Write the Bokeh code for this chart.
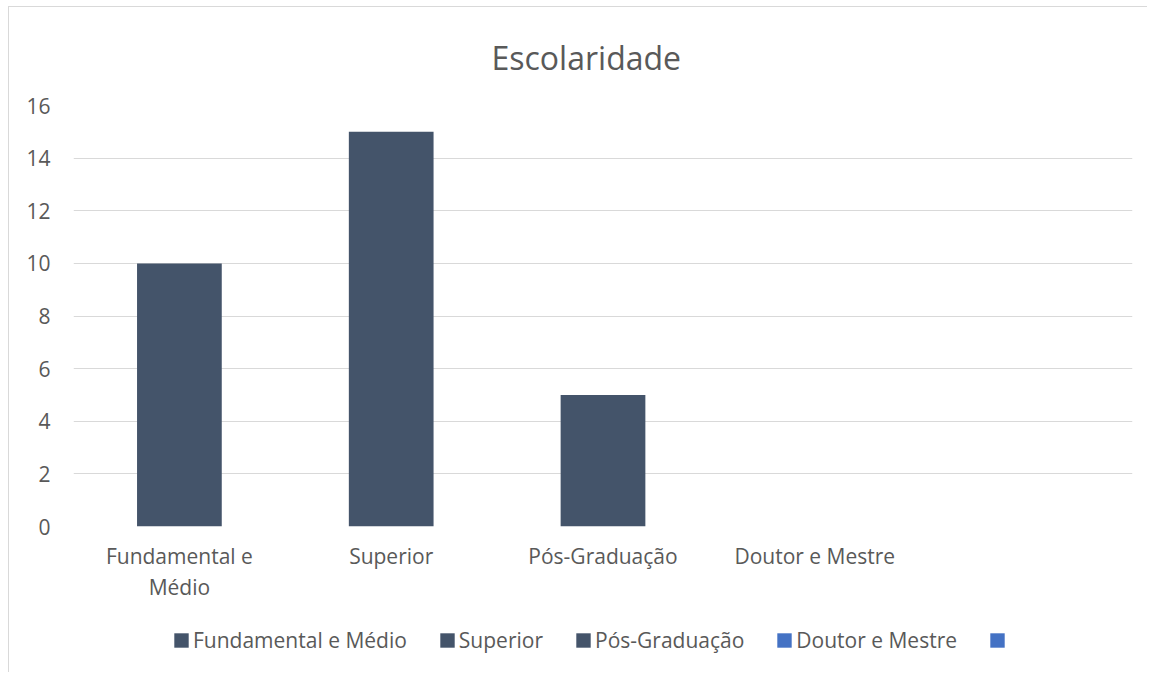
from bokeh.plotting import figure
from bokeh.layouts import column
from bokeh.models import (ColumnDataSource, FactorRange, CategoricalAxis, Legend,
                          LegendItem, CustomJSTickFormatter)
from bokeh.embed import file_html
from bokeh.resources import INLINE

categories = ["Fundamental e Médio", "Superior", "Pós-Graduação", "Doutor e Mestre", " "]
values = [10, 15, 5, 0, 0]
colors = ["#44546A", "#44546A", "#44546A", "#4472C4", "#4472C4"]
y_ticks = [0, 2, 4, 6, 8, 10, 12, 14, 16]
# the first category label wraps onto two lines in the chart
wrap_first = "Fundamental e Médio"
line1 = "Fundamental e"
line2 = "Médio"

FONT = "Open Sans"
TXT = "#595959"
FS = "21px"

src = ColumnDataSource(dict(cat=categories, val=values, color=colors))

p = figure(x_range=FactorRange(*categories), y_range=(0, 16),
           frame_width=1059, frame_height=421, output_backend="svg", toolbar_location=None,
           min_border_left=64, min_border_right=15, min_border_top=98, min_border_bottom=90)

r = p.vbar(x="cat", top="val", width=0.4, fill_color="color", line_color=None, source=src)

p.title.text = "Escolaridade"
p.title.align = "left"
p.title.offset = 418
p.title.text_font = FONT
p.title.text_font_size = "32px"
p.title.text_font_style = "normal"
p.title.text_color = TXT
p.title.standoff = 53

p.outline_line_color = None
p.xgrid.grid_line_color = None
p.ygrid.grid_line_color = "#d9d9d9"
p.ygrid.grid_line_width = 1
p.yaxis.ticker = y_ticks

x2 = CategoricalAxis()
p.add_layout(x2, "below")

p.xaxis[0].formatter = CustomJSTickFormatter(
    args=dict(full=wrap_first, l1=line1), code="return tick == full ? l1 : tick;")
x2.formatter = CustomJSTickFormatter(
    args=dict(full=wrap_first, l2=line2), code="return tick == full ? l2 : '';")

for ax in (p.xaxis[0], p.yaxis[0], x2):
    ax.axis_line_color = None
    ax.major_tick_line_color = None
    ax.minor_tick_line_color = None
    ax.major_tick_in = 0
    ax.major_tick_out = 0
    ax.major_label_text_font = FONT
    ax.major_label_text_font_size = FS
    ax.major_label_text_color = TXT

p.yaxis.major_label_standoff = 23
p.xaxis[0].major_label_standoff = 15
x2.major_label_standoff = 0

# legend strip below the chart
q = figure(x_range=FactorRange(*categories), y_range=(0, 16),
           width=1138, height=56, output_backend="svg", toolbar_location=None,
           x_axis_type=None, y_axis_type=None, min_border=0)
q.outline_line_color = None
q.xgrid.grid_line_color = None
q.ygrid.grid_line_color = None
rq = q.vbar(x="cat", top="val", width=0.4, fill_color="color", line_color=None,
            source=src, visible=False)

items = [LegendItem(label=c, renderers=[rq], index=i) for i, c in enumerate(categories)]
leg = Legend(items=items, orientation="horizontal", location=(99, 18),
             label_text_font=FONT, label_text_font_size=FS, label_text_color=TXT,
             glyph_width=18, glyph_height=18, label_standoff=3, spacing=31,
             border_line_color=None, background_fill_alpha=0, margin=0, padding=0)
q.add_layout(leg, "center")

layout = column(p, q, spacing=0,
                styles={"margin-left": "8px", "margin-top": "6px",
                        "border-left": "1px solid #d9d9d9", "border-top": "1px solid #d9d9d9"})

open("out.html", "w").write(file_html(layout, INLINE))
